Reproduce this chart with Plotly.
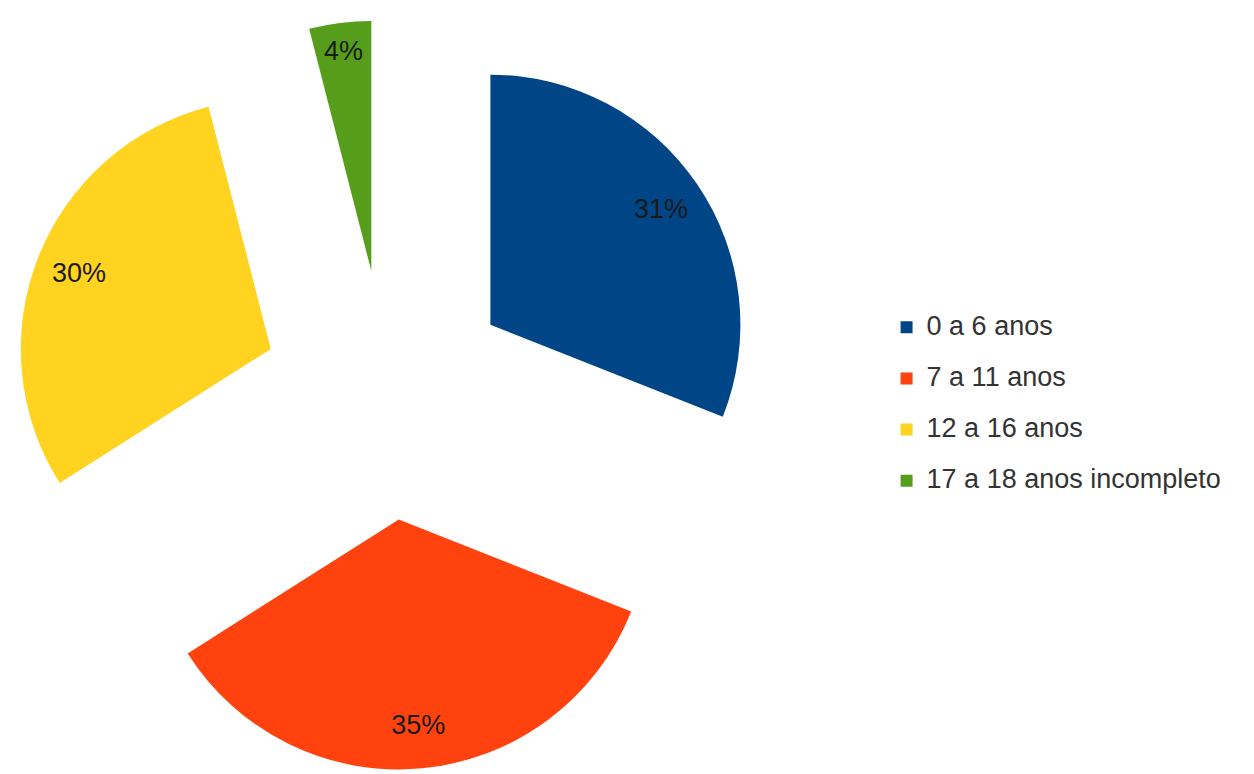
import plotly.graph_objects as go

labels = ["0 a 6 anos", "7 a 11 anos", "12 a 16 anos", "17 a 18 anos incompleto"]
values = [31, 35, 30, 4]
colors = ["#004586", "#ff420e", "#ffd320", "#579d1c"]
pulls = [0.5, 0.5, 0.5, 0.5]

W, H = 1254, 774
FONT = "Liberation Sans, Arial, sans-serif"
dom = dict(x=[12 / W, 762 / W], y=[1 - 770 / H, 1 - 20 / H])

legend_labels = ['<span style="font-size:27px">' + l + "</span><br> " for l in labels]

# coloured slices (no text)
fig = go.Figure(go.Pie(
    labels=legend_labels,
    values=values,
    marker=dict(colors=colors, line=dict(width=0)),
    pull=pulls,
    sort=False,
    direction="clockwise",
    rotation=0,
    textinfo="none",
    domain=dom,
    hoverinfo="label+percent",
))

# transparent ring on top carrying the percentage labels near the rim
fig.add_trace(go.Pie(
    labels=legend_labels,
    values=values,
    marker=dict(colors=["rgba(0,0,0,0)"] * 4, line=dict(width=0)),
    pull=pulls,
    hole=0.65,
    sort=False,
    direction="clockwise",
    rotation=0,
    textinfo="percent",
    textposition="inside",
    insidetextorientation="horizontal",
    textfont=dict(family=FONT, size=27, color="#1a1a1a"),
    domain=dom,
    showlegend=False,
    hoverinfo="skip",
))

fig.update_layout(
    width=W, height=H,
    margin=dict(l=0, r=0, t=0, b=0),
    paper_bgcolor="white",
    plot_bgcolor="white",
    showlegend=True,
    legend=dict(
        x=0.707, y=0.601, xanchor="left", yanchor="top",
        valign="top",
        font=dict(family=FONT, size=18.5, color="#333333"),
        itemwidth=30,
    ),
)

fig.write_html("out.html")
